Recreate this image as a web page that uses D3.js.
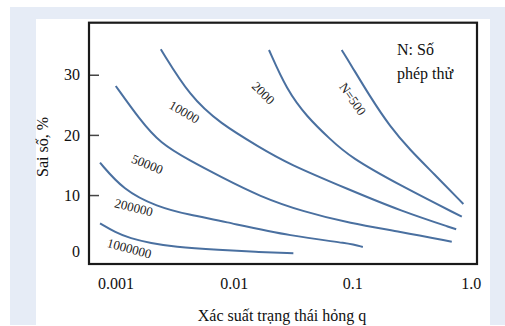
<!DOCTYPE html>
<html lang="vi">
<head>
  <meta charset="UTF-8">
  <title>Sai số theo xác suất trạng thái hỏng</title>
  <script src="https://d3js.org/d3.v7.min.js"></script>
  <style>
    body { margin: 0; background: #fff; }
    svg { display: block; }
    svg text { font-family: "Liberation Serif", "Times New Roman", serif; }
  </style>
</head>
<body>
  <div id="chart"></div>
  <script>
    // q values (log axis) and error % for each curve
    const q1000000 = [0.000741, 0.001, 0.001328, 0.002, 0.00308, 0.00763, 0.015, 0.0318];
    const e1000000 = [5.3, 3.8, 2.81, 2.0, 1.41, 0.86, 0.55, 0.32];
    const q200000 = [0.000741, 0.001166, 0.002234, 0.00427, 0.00763, 0.0318, 0.0957, 0.1228];
    const e200000 = [15.38, 10.84, 8.06, 6.68, 5.75, 3.08, 1.98, 1.36];
    const q50000 = [0.001006, 0.001614, 0.002383, 0.00427, 0.00763, 0.01663, 0.0387, 0.0957, 0.2535, 0.692];
    const e50000 = [28.13, 22.48, 18.6, 15.7, 13.1, 9.73, 7.23, 5.3, 3.91, 2.24];
    const q10000 = [0.002415, 0.00427, 0.00763, 0.01663, 0.028, 0.0957, 0.2535, 0.754];
    const e10000 = [34.23, 26.35, 21.93, 17.9, 15.3, 10.84, 7.4, 4.31];
    const q2000 = [0.0198, 0.028, 0.0413, 0.0649, 0.0957, 0.2535, 0.841];
    const e2000 = [34.11, 27.46, 23.03, 19.3, 16.3, 11.6, 6.4];
    const q500 = [0.0814, 0.0957, 0.1413, 0.2085, 0.3076, 0.484, 0.867];
    const e500 = [34.11, 31.9, 26.35, 21.36, 17.49, 13.62, 8.51];

    const curveNames = ["1000000", "200000", "50000", "10000", "2000", "N=500"];
    const curveQ = [q1000000, q200000, q50000, q10000, q2000, q500];
    const curveE = [e1000000, e200000, e50000, e10000, e2000, e500];
    // label anchor (q, error) and rotation
    const labelQ = [0.00131, 0.001428, 0.001859, 0.00382, 0.01774, 0.1009];
    const labelE = [1.15, 7.96, 15.16, 23.8, 26.97, 25.97];
    const labelAngle = [15, 14, 22, 30, 45, 55];

    const xTicks = [0.001, 0.01, 0.1, 1];
    const xTickLabels = ["0.001", "0.01", "0.1", "1.0"];
    const yTicks = [0, 10, 20, 30];

    const width = 505, height = 326;
    const box = { left: 89, right: 477, top: 22.7, bottom: 264 };

    const svg = d3.select("#chart").append("svg").attr("width", width).attr("height", height);

    // backgrounds
    svg.append("rect").attr("x", 10).attr("y", 7).attr("width", 495).attr("height", 318).attr("fill", "#e6ecf6");
    svg.append("rect").attr("x", 36).attr("y", 19).attr("width", 454).attr("height", 307).attr("fill", "#fff");

    const x = d3.scaleLog().domain([0.000598, 1.13]).range([box.left, box.right]);
    const y = d3.scaleLinear().domain([-1.46, 38.65]).range([box.bottom, box.top]);

    // y axis
    const yAxis = svg.append("g").attr("transform", `translate(${box.left},0)`)
      .call(d3.axisLeft(y).tickValues(yTicks).tickSizeInner(-10).tickSizeOuter(0).tickPadding(9).tickFormat(d3.format("d")))
      .attr("font-family", null).attr("font-size", null);
    yAxis.select(".domain").remove();
    yAxis.selectAll("line").attr("stroke", "#444").attr("stroke-width", 1.5);
    yAxis.selectAll(".tick").filter(d => d === 0).select("line").remove();
    yAxis.selectAll(".tick").filter(d => d === 0).select("text").attr("dy", "0.1em");
    yAxis.selectAll("text").attr("font-size", 16).attr("fill", "#111");

    // x axis
    const xAxis = svg.append("g").attr("transform", `translate(0,${box.bottom})`)
      .call(d3.axisBottom(x).tickValues(xTicks).tickSize(0).tickPadding(14).tickFormat((d, i) => xTickLabels[i]))
      .attr("font-family", null).attr("font-size", null);
    xAxis.select(".domain").remove();
    xAxis.selectAll("text").attr("font-size", 16).attr("fill", "#111");

    // curves
    const line = d3.line().x(d => x(d[0])).y(d => y(d[1])).curve(d3.curveBasis);
    curveQ.forEach((qs, i) => {
      const pts = qs.map((q, j) => [q, curveE[i][j]]);
      svg.append("path").datum(pts).attr("d", line)
        .attr("fill", "none").attr("stroke", "#4a70a0").attr("stroke-width", 2);
    });

    // curve labels
    curveNames.forEach((name, i) => {
      svg.append("text")
        .attr("transform", `translate(${x(labelQ[i])},${y(labelE[i])}) rotate(${labelAngle[i]})`)
        .attr("text-anchor", "middle").attr("dy", "0.35em")
        .attr("font-size", 13).attr("fill", "#222")
        .text(name);
    });

    // frame
    svg.append("rect").attr("x", box.left).attr("y", box.top)
      .attr("width", box.right - box.left).attr("height", box.bottom - box.top)
      .attr("fill", "none").attr("stroke", "#1a1a1a").attr("stroke-width", 2.2);

    // legend note
    svg.append("text").attr("x", 397).attr("y", 55).attr("font-size", 16).attr("fill", "#111").text("N: Số");
    svg.append("text").attr("x", 397).attr("y", 79).attr("font-size", 16).attr("fill", "#111").text("phép thử");

    // axis titles
    svg.append("text").attr("x", 282).attr("y", 321).attr("text-anchor", "middle")
      .attr("font-size", 16).attr("fill", "#111").text("Xác suất trạng thái hỏng q");
    svg.append("text").attr("transform", "translate(42,147) rotate(-90)").attr("text-anchor", "middle").attr("dy", "0.35em")
      .attr("font-size", 16).attr("fill", "#111").text("Sai số, %");
  </script>
</body>
</html>
